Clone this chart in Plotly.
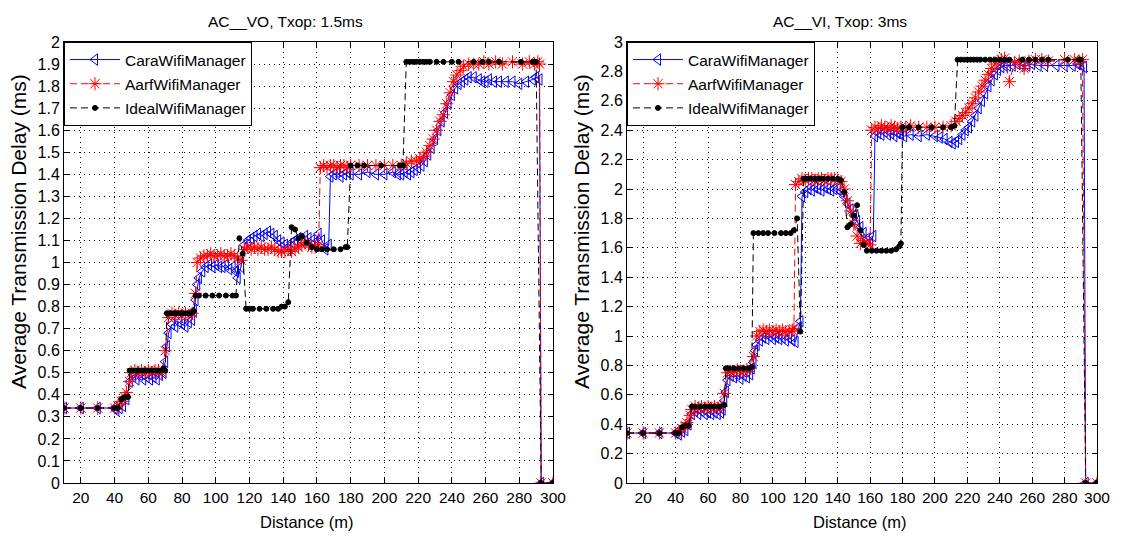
import plotly.graph_objects as go

# ---------------- data: AC_VO, Txop 1.5ms (left) ----------------
vo_cara_x = [10,20,30,40,41,43,45,47,49,51,53,55,57,59,61,63,65,67,69,70,71,72,74,76,78,80,82,84,86,87,88,89,90,92,94,96,98,100,102,104,106,108,110,112,113,115,117,119,121,123,125,127,129,131,133,135,137,139,141,143,145,147,149,151,153,155,157,159,161,163,165,167,168,170,172,174,176,178,180,185,190,195,200,205,208,210,212,214,216,218,220,222,224,226,228,230,232,234,236,238,240,242,244,246,248,250,253,256,258,260,262,265,268,272,276,280,284,288,290,292,293,300]
vo_cara_y = [.34,.34,.34,.34,.33,.34,.35,.38,.46,.49,.47,.49,.47,.48,.47,.48,.47,.49,.50,.55,.62,.68,.72,.71,.73,.72,.71,.73,.74,.78,.83,.90,.93,.96,.98,.99,.98,.99,.98,.98,.99,.97,.98,.96,.93,.98,1.08,1.10,1.11,1.12,1.13,1.12,1.13,1.14,1.13,1.12,1.10,1.09,1.08,1.07,1.09,1.10,1.11,1.10,1.12,1.11,1.10,1.09,1.13,1.10,1.06,1.08,1.39,1.40,1.41,1.39,1.40,1.41,1.40,1.40,1.41,1.40,1.40,1.41,1.40,1.40,1.41,1.40,1.41,1.42,1.43,1.44,1.46,1.49,1.52,1.56,1.60,1.64,1.68,1.72,1.76,1.79,1.81,1.82,1.83,1.84,1.84,1.83,1.82,1.82,1.83,1.82,1.82,1.82,1.82,1.81,1.82,1.83,1.84,1.83,0,0]

vo_aarf_x = [10,20,30,40,42,44,46,47,49,50,52,54,56,58,60,62,64,66,68,70,72,74,76,78,80,82,84,86,88,89,91,93,95,97,99,101,103,105,107,109,111,113,115,117,119,121,123,125,127,129,131,133,135,137,139,141,143,145,147,149,151,153,155,157,159,161,162,164,166,168,170,172,174,176,178,180,185,190,195,200,205,210,213,216,219,221,223,225,227,229,231,233,235,237,239,241,243,245,247,250,253,256,259,262,266,270,276,282,286,289,291,292,293,300]
vo_aarf_y = [.34,.34,.34,.34,.35,.37,.39,.41,.46,.50,.51,.50,.51,.50,.51,.50,.51,.51,.50,.60,.75,.77,.76,.77,.76,.77,.76,.77,.86,1.0,1.02,1.03,1.03,1.04,1.03,1.03,1.04,1.03,1.03,1.04,1.03,1.02,1.01,1.06,1.07,1.06,1.07,1.06,1.07,1.06,1.06,1.07,1.06,1.05,1.05,1.05,1.06,1.05,1.06,1.07,1.08,1.09,1.08,1.07,1.07,1.08,1.43,1.44,1.43,1.44,1.44,1.43,1.44,1.44,1.43,1.44,1.44,1.44,1.44,1.44,1.44,1.44,1.45,1.46,1.46,1.47,1.48,1.50,1.53,1.56,1.60,1.64,1.67,1.72,1.77,1.82,1.85,1.87,1.89,1.90,1.90,1.90,1.91,1.90,1.91,1.90,1.91,1.90,1.91,1.90,1.91,1.90,0,0]

vo_ideal_x = [10,20,30,40,42,44,46,48,49,51,53,55,57,59,61,63,65,67,69,70,71,73,75,77,79,81,83,85,87,88,90,94,98,102,106,110,112,114,116,118,120,122,126,130,134,137,139,141,143,145,147,149,151,154,157,160,163,166,170,174,177,178,180,184,188,198,209,211,213,215,217,219,221,223,225,227,231,235,240,244,253,258,262,268,281,288,290,293,300]
vo_ideal_y = [.34,.34,.34,.34,.34,.38,.39,.39,.51,.51,.51,.51,.51,.51,.51,.51,.51,.51,.52,.51,.77,.77,.77,.77,.77,.77,.77,.77,.78,.85,.85,.85,.85,.85,.85,.85,.85,1.11,1.04,.79,.79,.79,.79,.79,.79,.79,.80,.80,.82,1.16,1.15,1.11,1.12,1.09,1.07,1.06,1.06,1.06,1.06,1.06,1.07,1.07,1.44,1.44,1.44,1.44,1.44,1.44,1.91,1.91,1.91,1.91,1.91,1.91,1.91,1.91,1.91,1.91,1.91,1.91,1.91,1.91,1.91,1.91,1.91,1.91,1.91,0,0]

# ---------------- data: AC_VI, Txop 3ms (right) ----------------
vi_cara_x = [10,20,30,40,42,44,46,48,50,52,54,56,58,60,62,64,66,68,69,70,71,72,74,76,78,80,82,84,86,87,88,89,90,92,94,96,98,100,102,104,106,108,110,112,114,116,117,118,120,122,124,126,128,130,132,134,136,138,140,142,144,146,148,150,152,154,156,158,160,162,163,165,167,169,171,173,175,177,179,181,185,190,195,200,203,206,209,211,213,215,217,219,221,223,225,227,229,231,233,235,237,239,241,243,245,248,251,254,257,260,264,268,275,280,285,288,290,292,293,300]
vi_cara_y = [.34,.34,.34,.34,.33,.35,.36,.40,.47,.49,.47,.49,.47,.48,.47,.48,.47,.48,.50,.56,.62,.70,.73,.72,.74,.71,.73,.72,.74,.78,.82,.90,.94,.97,.99,.98,1.0,.98,.99,.98,.99,.97,.99,.97,.96,1.06,1.10,1.95,1.98,2.0,1.99,2.01,2.0,1.99,2.01,2.0,1.99,2.0,2.0,1.98,1.95,1.90,1.86,1.82,1.78,1.74,1.70,1.66,1.64,1.68,2.36,2.38,2.37,2.39,2.37,2.38,2.36,2.38,2.37,2.36,2.37,2.36,2.37,2.36,2.35,2.34,2.32,2.31,2.32,2.34,2.37,2.40,2.42,2.46,2.50,2.55,2.60,2.65,2.70,2.74,2.78,2.81,2.83,2.84,2.84,2.84,2.85,2.84,2.84,2.85,2.84,2.84,2.84,2.84,2.84,2.85,2.84,2.83,0,0]

vi_aarf_x = [10,20,30,40,42,44,46,47,49,50,52,54,56,58,60,62,64,66,68,70,72,74,76,78,80,82,84,86,88,90,92,94,96,98,100,102,104,106,108,110,112,113,114,116,118,120,122,124,126,128,130,132,134,136,138,140,142,144,146,148,150,152,154,156,158,160,161,163,165,167,169,171,173,175,177,179,182,185,190,195,200,205,210,213,215,217,219,221,223,225,227,229,231,233,235,237,239,241,243,246,249,252,255,258,262,266,270,280,286,289,291,293,300]
vi_aarf_y = [.34,.34,.34,.34,.35,.37,.39,.41,.46,.50,.52,.51,.52,.51,.52,.51,.52,.51,.52,.61,.75,.76,.76,.77,.76,.76,.77,.78,.86,1.0,1.03,1.04,1.03,1.04,1.03,1.04,1.03,1.04,1.03,1.03,1.04,1.05,2.03,2.05,2.07,2.06,2.07,2.07,2.06,2.07,2.07,2.06,2.07,2.07,2.07,2.06,2.05,2.0,1.92,1.85,1.76,1.68,1.63,1.65,1.63,1.62,2.40,2.42,2.41,2.43,2.42,2.41,2.43,2.42,2.41,2.42,2.42,2.43,2.42,2.42,2.42,2.42,2.43,2.46,2.48,2.50,2.52,2.55,2.58,2.62,2.66,2.70,2.74,2.78,2.82,2.85,2.87,2.88,2.89,2.73,2.86,2.87,2.82,2.87,2.88,2.88,2.87,2.88,2.88,2.87,2.88,0,0]

vi_ideal_x = [10,20,30,40,42,44,46,48,50,52,55,58,61,64,67,70,71,73,76,79,82,85,87,88,91,94,97,101,105,108,111,113,115,117,119,121,123,125,127,129,131,134,137,140,142,144,146,148,150,152,154,156,158,161,164,167,170,173,176,178,179,180,184,190,198,205,210,212,214,216,218,220,222,224,226,228,231,234,237,240,243,246,254,258,262,266,270,282,289,290,293,300]
vi_ideal_y = [.34,.34,.34,.34,.34,.38,.39,.39,.52,.52,.52,.52,.52,.52,.52,.53,.78,.78,.78,.78,.78,.78,.79,1.70,1.70,1.70,1.70,1.70,1.70,1.70,1.70,1.72,1.80,1.03,2.07,2.07,2.07,2.07,2.07,2.07,2.07,2.07,2.07,2.07,2.06,1.98,1.74,1.76,1.82,1.89,1.72,1.62,1.58,1.58,1.58,1.58,1.58,1.58,1.59,1.61,1.63,2.42,2.42,2.42,2.42,2.42,2.42,2.43,2.88,2.88,2.88,2.88,2.88,2.88,2.88,2.88,2.88,2.88,2.88,2.88,2.88,2.88,2.88,2.88,2.88,2.88,2.88,2.88,2.88,2.88,0,0]

series_names = ["CaraWifiManager", "AarfWifiManager", "IdealWifiManager"]
titles = ["AC__VO, Txop: 1.5ms", "AC__VI, Txop: 3ms"]
x_label = "Distance (m)"
y_label = "Average Transmission Delay (ms)"
x_tick_vals = [20,40,60,80,100,120,140,160,180,200,220,240,260,280,300]
x_tick_text = [str(v) for v in x_tick_vals]
vo_y_vals = [i / 10 for i in range(21)]
vo_y_text = ["0","0.1","0.2","0.3","0.4","0.5","0.6","0.7","0.8","0.9","1","1.1","1.2","1.3","1.4","1.5","1.6","1.7","1.8","1.9","2"]
vi_y_vals = [i / 5 for i in range(16)]
vi_y_text = ["0","0.2","0.4","0.6","0.8","1","1.2","1.4","1.6","1.8","2","2.2","2.4","2.6","2.8","3"]

W, H = 1121, 536
FONT = "Liberation Sans, Arial, sans-serif"

styles = [
    dict(color="#0000ff", dash="solid", symbol="triangle-left-open", size=10),
    dict(color="#ff0000", dash="7px,4px", symbol="asterisk-open", size=11),
    dict(color="#000000", dash="7px,4px", symbol="circle", size=5),
]

fig = go.Figure()
panels = [
    ("x", "y", "legend", [(vo_cara_x, vo_cara_y), (vo_aarf_x, vo_aarf_y), (vo_ideal_x, vo_ideal_y)]),
    ("x2", "y2", "legend2", [(vi_cara_x, vi_cara_y), (vi_aarf_x, vi_aarf_y), (vi_ideal_x, vi_ideal_y)]),
]
for xa, ya, lg, data in panels:
    for name, (xs, ys), st in zip(series_names, data, styles):
        fig.add_trace(go.Scatter(
            x=xs, y=ys, name=name, mode="lines+markers", xaxis=xa, yaxis=ya,
            legend=lg, legendgroup=lg + name,
            line=dict(color=st["color"], width=1, dash=st["dash"]),
            marker=dict(symbol=st["symbol"], size=st["size"], color=st["color"],
                        line=dict(color=st["color"], width=1)),
        ))

def px_x(p):
    return p / W

def px_y(p):
    return 1 - p / H

dom_left = [px_x(64), px_x(553)]
dom_right = [px_x(627), px_x(1097)]
dom_y = [px_y(483), px_y(42)]

common_x = dict(range=[10, 300], tickvals=x_tick_vals, ticktext=x_tick_text,
                showline=True, linecolor="black", linewidth=1, mirror="allticks",
                ticks="inside", ticklen=5, tickcolor="black", automargin=False,
                showgrid=True, gridcolor="#000000", gridwidth=1, griddash="1px,4px",
                zeroline=False, tickfont=dict(size=15.5, color="black"))
common_y = dict(showline=True, linecolor="black", linewidth=1, mirror="allticks",
                ticks="inside", ticklen=5, tickcolor="black", automargin=False,
                showgrid=True, gridcolor="#000000", gridwidth=1, griddash="1px,4px",
                zeroline=False, tickfont=dict(size=16, color="black"))

legend_common = dict(bgcolor="white", bordercolor="black", borderwidth=1,
                     font=dict(size=15.5, color="black", family=FONT),
                     xanchor="left", yanchor="top", itemwidth=50,
                     tracegroupgap=1, traceorder="grouped")

def ann(text, xp, yp, size, angle=0):
    return dict(text=text, x=px_x(xp), y=px_y(yp), xref="paper", yref="paper",
                showarrow=False, font=dict(size=size, color="black", family=FONT),
                xanchor="center", yanchor="middle", textangle=angle)

fig.update_layout(
    width=W, height=H, margin=dict(l=0, r=0, t=0, b=0, autoexpand=False),
    paper_bgcolor="white", plot_bgcolor="white",
    font=dict(family=FONT, color="black"),
    showlegend=True,
    xaxis=dict(domain=dom_left, anchor="y", **common_x),
    yaxis=dict(domain=dom_y, anchor="x", range=[0, 2], tickvals=vo_y_vals, ticktext=vo_y_text, **common_y),
    xaxis2=dict(domain=dom_right, anchor="y2", **common_x),
    yaxis2=dict(domain=dom_y, anchor="x2", range=[0, 3], tickvals=vi_y_vals, ticktext=vi_y_text, **common_y),
    legend=dict(x=dom_left[0], y=dom_y[1], **legend_common),
    legend2=dict(x=dom_right[0], y=dom_y[1], **legend_common),
    annotations=[
        ann(titles[0], 285, 21, 15.5),
        ann(titles[1], 840, 21, 15.5),
        ann(x_label, 307, 522, 16.5),
        ann(x_label, 860, 522, 16.5),
        ann(y_label, 19, 232, 21, -90),
        ann(y_label, 582, 232, 21, -90),
    ],
)

fig.write_html("out.html", config={"displayModeBar": False},
               post_script="document.body.style.margin='0';document.body.style.overflow='hidden';")
